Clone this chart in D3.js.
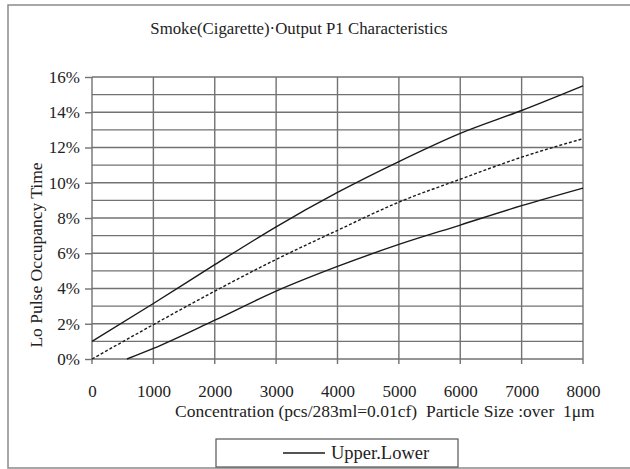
<!DOCTYPE html>
<html><head><meta charset="utf-8">
<script src="https://cdn.jsdelivr.net/npm/d3@7"></script>
<style>body{margin:0;background:#fff}svg{display:block}text{font-family:"Liberation Serif","DejaVu Serif",serif;fill:#222;white-space:pre}</style>
</head><body><svg id="c" width="630" height="469"></svg>
<script>
const title = "Smoke(Cigarette)·Output P1 Characteristics";
const xTitle = "Concentration (pcs/283ml=0.01cf)  Particle Size :over  1μm";
const yTitle = "Lo Pulse Occupancy Time";
const legendLabel = "Upper.Lower";
const xTicks = [0,1000,2000,3000,4000,5000,6000,7000,8000];
const yTicks = [0,2,4,6,8,10,12,14,16];
const yGrid = [0,1,2,3,4,5,6,7,8,9,10,11,12,13,14,15,16];
const upperX = [0,1000,2000,3000,4000,5000,6000,7000,8000];
const upperY = [1.0,3.15,5.35,7.5,9.45,11.2,12.8,14.1,15.5];
const typX = [0,1000,2000,3000,4000,5000,6000,7000,8000];
const typY = [0,1.95,3.85,5.65,7.3,8.9,10.2,11.45,12.5];
const lowerX = [570,1000,2000,3000,4000,5000,6000,7000,8000];
const lowerY = [0,0.6,2.2,3.85,5.25,6.5,7.6,8.7,9.7];

const svg = d3.select("#c");
const L=92,R=583,T=77,B=359;
const x = d3.scaleLinear().domain([0,8000]).range([L,R]);
const y = d3.scaleLinear().domain([0,16]).range([B,T]);
const grid = "#727272";

// outer frame
svg.append("rect").attr("x",8).attr("y",5).attr("width",640).attr("height",463)
  .attr("fill","none").attr("stroke","#8a8a8a").attr("stroke-width",1.5);

// horizontal grid
svg.append("g").selectAll("line").data(yGrid).join("line")
  .attr("x1",L).attr("x2",R).attr("y1",d=>y(d)).attr("y2",d=>y(d))
  .attr("stroke",grid).attr("stroke-width",1.4);
// vertical grid
svg.append("g").selectAll("line").data(xTicks).join("line")
  .attr("x1",d=>x(d)).attr("x2",d=>x(d)).attr("y1",T).attr("y2",B+5)
  .attr("stroke",grid).attr("stroke-width",1.4);

// axes
const ya = svg.append("g").attr("transform",`translate(${L},0)`)
  .call(d3.axisLeft(y).tickValues(yTicks).tickSize(7).tickPadding(5).tickFormat(d=>d+"%"));
ya.select(".domain").remove();
ya.selectAll("line").attr("stroke",grid).attr("stroke-width",1.4);
ya.selectAll("text").attr("font-size",17).attr("font-family","Liberation Serif").attr("fill","#333");

const xa = svg.append("g").attr("transform",`translate(0,${B})`)
  .call(d3.axisBottom(x).tickValues(xTicks).tickSize(0).tickPadding(26).tickFormat(d3.format("d")));
xa.select(".domain").remove();
xa.selectAll("text").attr("font-size",17).attr("font-family","Liberation Serif").attr("fill","#333");

// series
const line = d3.line().x(d=>x(d[0])).y(d=>y(d[1])).curve(d3.curveMonotoneX);
const mk = (xs,ys)=>xs.map((v,i)=>[v,ys[i]]);
svg.append("path").attr("d",line(mk(upperX,upperY))).attr("fill","none").attr("stroke","#1a1a1a").attr("stroke-width",1.4);
svg.append("path").attr("d",line(mk(lowerX,lowerY))).attr("fill","none").attr("stroke","#1a1a1a").attr("stroke-width",1.4);
svg.append("path").attr("d",line(mk(typX,typY))).attr("fill","none").attr("stroke","#1a1a1a").attr("stroke-width",1.4).attr("stroke-dasharray","3,2");

// titles
svg.append("text").attr("x",299).attr("y",34).attr("text-anchor","middle").attr("font-size",16.8).text(title);
svg.append("text").attr("x",175).attr("y",417).attr("font-size",17.5).text(xTitle);
svg.append("text").attr("transform","translate(42,255) rotate(-90)").attr("text-anchor","middle").attr("font-size",17.5).text(yTitle);

// legend
svg.append("rect").attr("x",216).attr("y",439).attr("width",242).attr("height",28)
  .attr("fill","#fff").attr("stroke","#555").attr("stroke-width",1.2);
svg.append("line").attr("x1",283).attr("x2",325).attr("y1",453).attr("y2",453).attr("stroke","#1a1a1a").attr("stroke-width",1.4);
svg.append("text").attr("x",331).attr("y",459).attr("font-size",18.5).text(legendLabel);
</script></body></html>
